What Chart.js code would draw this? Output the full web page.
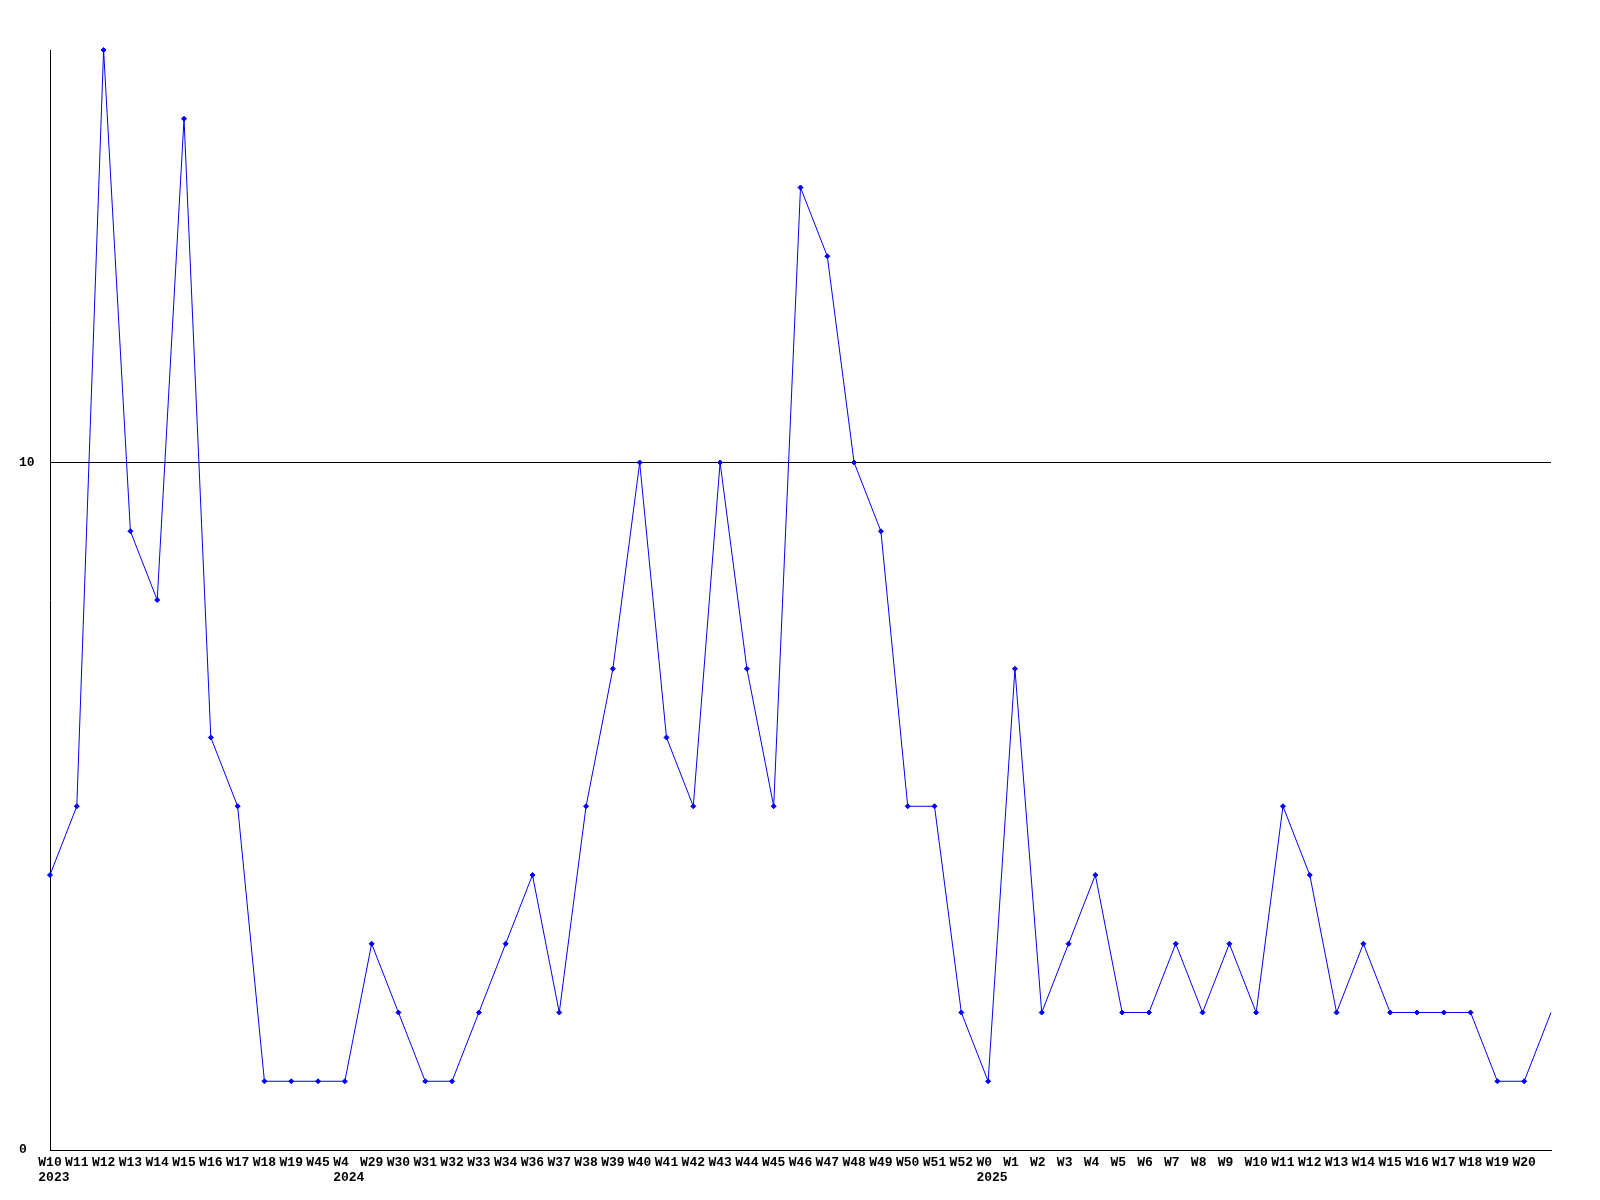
<!DOCTYPE html>
<html>
<head>
<meta charset="utf-8">
<script src="https://cdn.jsdelivr.net/npm/chart.js@4.4.1/dist/chart.umd.min.js"></script>
<style>
  body { margin: 0; background: #fff; }
  canvas { display: block; }
</style>
</head>
<body>
<canvas id="weekChart" width="1600" height="1200"></canvas>
<script>
// week labels along the x axis (last point has no label)
const weeks = ["W10", "W11", "W12", "W13", "W14", "W15", "W16", "W17", "W18", "W19",
    "W45", "W4", "W29", "W30", "W31", "W32", "W33", "W34", "W36", "W37",
    "W38", "W39", "W40", "W41", "W42", "W43", "W44", "W45", "W46", "W47",
    "W48", "W49", "W50", "W51", "W52", "W0", "W1", "W2", "W3", "W4",
    "W5", "W6", "W7", "W8", "W9", "W10", "W11", "W12", "W13", "W14",
    "W15", "W16", "W17", "W18", "W19", "W20", ""];

// second line of the label where a new year starts
const yearStarts = [0, 11, 35];
const yearNames = ["2023", "2024", "2025"];

const counts = [4, 5, 16, 9, 8, 15, 6, 5, 1, 1,
    1, 1, 3, 2, 1, 1, 2, 3, 4, 2,
    5, 7, 10, 6, 5, 10, 7, 5, 14, 13,
    10, 9, 5, 5, 2, 1, 7, 2, 3, 4,
    2, 2, 3, 2, 3, 2, 5, 4, 2, 3,
    2, 2, 2, 2, 1, 1, 2];

const yTicks = [0, 10];
const yMax = 16;

const font = { family: "'Liberation Mono', 'DejaVu Sans Mono', monospace", size: 13, weight: 'bold', lineHeight: '15px' };

new Chart(document.getElementById('weekChart'), {
    type: 'line',
    data: {
        labels: weeks,
        datasets: [{
            data: counts,
            borderColor: '#0000ff',
            backgroundColor: '#0000ff',
            borderWidth: 1,
            tension: 0,
            fill: false,
            clip: false,
            pointStyle: 'rectRot',
            pointRadius: ctx => ctx.dataIndex === counts.length - 1 ? 0 : 2.5,
            pointBorderWidth: 1
        }]
    },
    options: {
        responsive: false,
        animation: false,
        layout: {
            padding: { top: 50, left: 19, right: 49, bottom: 0 }
        },
        plugins: {
            legend: { display: false },
            tooltip: { enabled: false }
        },
        scales: {
            x: {
                offset: false,
                grid: { display: false, drawTicks: false },
                border: { display: true, color: '#000', width: 1 },
                afterFit: s => { s.height = 50; },
                ticks: {
                    autoSkip: false,
                    maxRotation: 0,
                    minRotation: 0,
                    padding: 5,
                    color: '#000',
                    font: font,
                    callback: function (value, index) {
                        const w = weeks[index].padEnd(3, ' ');
                        const k = yearStarts.indexOf(index);
                        return k >= 0 ? [w, ' ' + yearNames[k]] : w;
                    }
                }
            },
            y: {
                min: 0,
                max: yMax,
                afterFit: s => { s.width = 31; },
                afterBuildTicks: s => { s.ticks = yTicks.map(v => ({ value: v })); },
                grid: { color: '#000', lineWidth: 1, drawTicks: false },
                border: { display: true, color: '#000', width: 1 },
                ticks: {
                    crossAlign: 'far',
                    padding: 17,
                    color: '#000',
                    font: font
                }
            }
        }
    }
});
</script>
</body>
</html>
